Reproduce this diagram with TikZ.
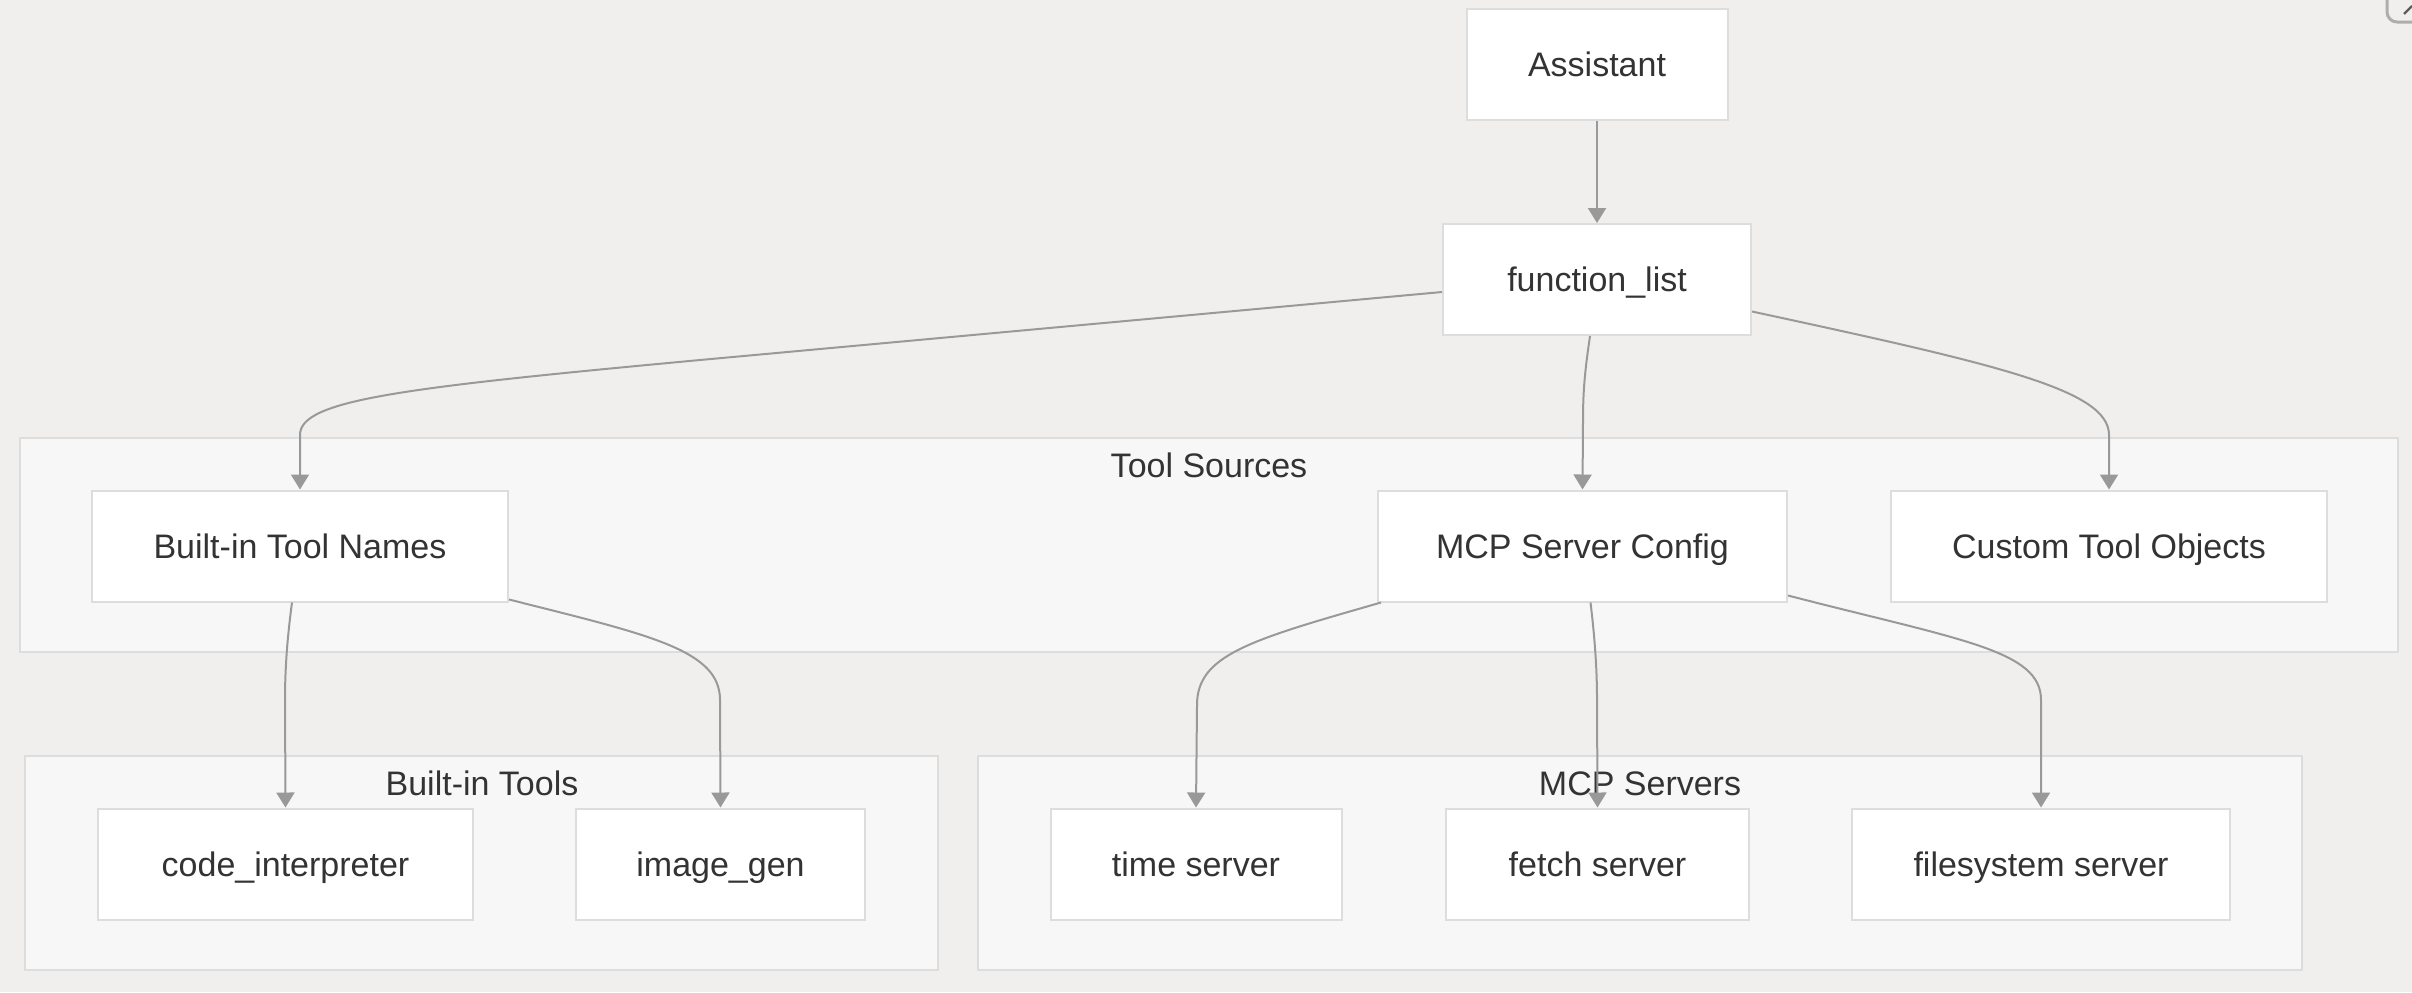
\documentclass[tikz,border=0pt]{standalone}
\usepackage{fontspec}
\setmainfont{Liberation Sans}
\usepackage{tikz}
\usetikzlibrary{arrows.meta,positioning,calc}
\definecolor{bgc}{RGB}{240,239,237}
\definecolor{clfill}{RGB}{247,247,247}
\definecolor{bordc}{RGB}{221,221,221}
\definecolor{edgec}{RGB}{153,153,153}
\definecolor{txtc}{RGB}{51,51,51}
\tikzset{box/.style={draw=bordc,fill=white,line width=1pt,inner sep=0pt,align=center,text=txtc,minimum height=55.5pt,text height=12.2pt,text depth=0pt,font=\fontsize{17}{20}\selectfont}}
\tikzset{cluster/.style={draw=bordc,fill=clfill,line width=1pt,inner sep=0pt,minimum height=107pt}}
\tikzset{cltitle/.style={text=txtc,inner sep=0pt,text height=12.2pt,text depth=0pt,font=\fontsize{17}{20}\selectfont}}

\begin{document}
\begin{tikzpicture}[x=0.5pt, y=-0.5pt, ->, >={Triangle[length=7.5pt,width=9pt]}, line width=1pt]
        \fill[bgc] (0,0) rectangle (2412,992);
        \useasboundingbox (0,0) rectangle (2412,992);
        \draw[-, edgec!80, line width=1.5pt, rounded corners=5pt] (2387,-20) -- (2387,22) -- (2430,22);
        \draw[-, txtc!80, line width=1.2pt] (2404,14) -- (2412,6);
        % groups
        \node[cluster, minimum width=1189pt] (srcs) at (1209,545) {};
        \node[cluster, minimum width=456.5pt] (bgrp) at (481.5,863) {};
        \node[cluster, minimum width=662pt] (mgrp) at (1640,863) {};
        \node[cltitle] (srcst) at (1209,465) {Tool Sources};
        \node[cltitle] (bgrpt) at (482,783) {Built-in Tools};
        \node[cltitle] (mgrpt) at (1640,783) {MCP Servers};
        % nodes
        \node[box, minimum width=130.5pt] (asst) at (1597,64.5) {Assistant};
        \node[box, minimum width=154pt] (flist) at (1597,279.5) {function\_list};
        \node[box, minimum width=208pt] (bnames) at (300,546) {Built-in Tool Names};
        \node[box, minimum width=204.5pt] (mcpcfg) at (1582.5,546) {MCP Server Config};
        \node[box, minimum width=218pt] (custom) at (2109,546) {Custom Tool Objects};
        \node[box, minimum width=187.5pt] (codei) at (285.5,864) {code\_interpreter};
        \node[box, minimum width=144.5pt] (imgen) at (720.5,864) {image\_gen};
        \node[box, minimum width=145.5pt] (tsrv) at (1196,864) {time server};
        \node[box, minimum width=151.5pt] (fsrv) at (1597.5,864) {fetch server};
        \node[box, minimum width=189pt] (fssrv) at (2041,864) {filesystem server};
        % edges
        \begin{scope}[edgec]
        \path (asst) edge (flist);
        \draw ($(flist.west)+(0,12.5)$) -- (700,360) .. controls (400,388) and (300,400) .. (300,435) -- (bnames.north);
        \draw ($(flist.south)+(-7,0)$) .. controls (1585,370) and (1583,390) .. (1583,420) -- (mcpcfg.north);
        \draw ($(flist.east)+(0,32)$) .. controls (2000,365) and (2109,390) .. (2109,435) -- (custom.north);
        \draw ($(bnames.south)+(-8,0)$) .. controls (287,640) and (285,670) .. (285,700) -- (codei.north);
        \draw ($(bnames.south east)+(0,-3)$) .. controls (650,635) and (720,650) .. (720,700) -- (imgen.north);
        \draw ($(mcpcfg.south west)+(4,0)$) .. controls (1250,640) and (1197,655) .. (1197,705) -- (tsrv.north);
        \draw ($(mcpcfg.south)+(8,0)$) .. controls (1595,640) and (1597,670) .. (1597,700) -- (fsrv.north);
        \draw ($(mcpcfg.south east)+(0,-7)$) .. controls (1960,640) and (2041,650) .. (2041,700) -- (fssrv.north);
        \end{scope}
\end{tikzpicture}
\end{document}
